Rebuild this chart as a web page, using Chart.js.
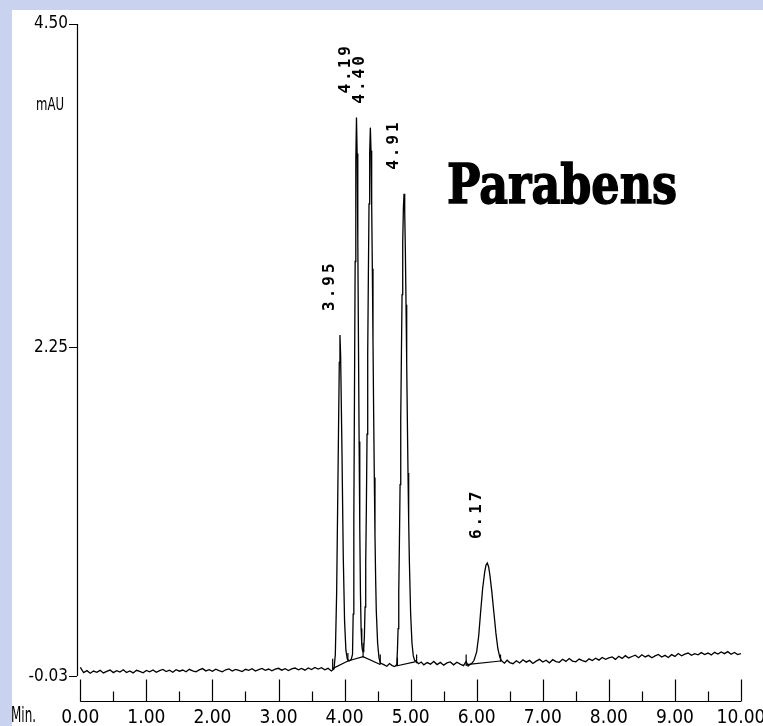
<!DOCTYPE html>
<html>
<head>
<meta charset="utf-8">
<script src="https://cdn.jsdelivr.net/npm/chart.js@4.4.1/dist/chart.umd.min.js"></script>
<style>
  html, body { margin: 0; padding: 0; }
  body { width: 763px; height: 726px; position: relative; overflow: hidden; background: #c9d3ef; }
  #panel { position: absolute; left: 12px; top: 10px; right: 0; bottom: 0; background: #fff; }
  #wrap { position: absolute; left: 0; top: 0; width: 763px; height: 726px; }
</style>
</head>
<body>
<div id="panel"></div>
<div id="wrap"><canvas id="chromatogram" width="763" height="726"></canvas></div>
<script>
// Detector trace: retention time (min) and absorbance (mAU)
const traceTimes = [
  0, 0.05, 0.1, 0.15, 0.2, 0.25, 0.3, 0.35, 0.4, 0.45, 0.5, 0.55, 0.6, 0.65, 0.7, 0.75, 0.8, 0.85, 0.9, 0.95,
  1, 1.05, 1.1, 1.15, 1.2, 1.25, 1.3, 1.35, 1.4, 1.45, 1.5, 1.55, 1.6, 1.65, 1.7, 1.75, 1.8, 1.85, 1.9, 1.95,
  2, 2.05, 2.1, 2.15, 2.2, 2.25, 2.3, 2.35, 2.4, 2.45, 2.5, 2.55, 2.6, 2.65, 2.7, 2.75, 2.8, 2.85, 2.9, 2.95,
  3, 3.05, 3.1, 3.15, 3.2, 3.25, 3.3, 3.35, 3.4, 3.45, 3.5, 3.55, 3.6, 3.65, 3.7, 3.75, 3.8,
  3.84, 3.86, 3.88, 3.9, 3.92, 3.93, 3.94, 3.96, 3.98, 4, 4.02, 4.04, 4.07, 4.1,
  4.12, 4.13, 4.14, 4.15, 4.16, 4.17, 4.18, 4.19, 4.2, 4.21, 4.22, 4.23, 4.24, 4.25, 4.26, 4.27, 4.28,
  4.29, 4.3, 4.31, 4.32, 4.33, 4.34, 4.35, 4.36, 4.37, 4.38, 4.39, 4.4, 4.41, 4.42, 4.43, 4.44, 4.45,
  4.46, 4.47, 4.48, 4.5, 4.52, 4.54, 4.57, 4.6, 4.64, 4.68, 4.72, 4.76, 4.79,
  4.8, 4.81, 4.82, 4.83, 4.84, 4.85, 4.86, 4.87, 4.88, 4.89, 4.9, 4.91, 4.92, 4.93, 4.94, 4.95, 4.96,
  4.97, 4.98, 5, 5.02, 5.04, 5.06, 5.08,
  5.12, 5.16, 5.2, 5.25, 5.3, 5.35, 5.4, 5.45, 5.5, 5.55, 5.6, 5.65, 5.7, 5.75, 5.8, 5.84, 5.87, 5.9,
  5.93, 5.96, 6, 6.03, 6.06, 6.09, 6.12, 6.14, 6.16, 6.18, 6.2, 6.23, 6.26, 6.29, 6.32, 6.35, 6.38,
  6.42, 6.46, 6.5, 6.55, 6.6, 6.65, 6.7, 6.75, 6.8, 6.85, 6.9, 6.95,
  7, 7.05, 7.1, 7.15, 7.2, 7.25, 7.3, 7.35, 7.4, 7.45, 7.5, 7.55, 7.6, 7.65, 7.7, 7.75, 7.8, 7.85, 7.9, 7.95,
  8, 8.05, 8.1, 8.15, 8.2, 8.25, 8.3, 8.35, 8.4, 8.45, 8.5, 8.55, 8.6, 8.65, 8.7, 8.75, 8.8, 8.85, 8.9, 8.95,
  9, 9.05, 9.1, 9.15, 9.2, 9.25, 9.3, 9.35, 9.4, 9.45, 9.5, 9.55, 9.6, 9.65, 9.7, 9.75, 9.8, 9.85, 9.9, 9.95, 10
];
const traceAbs = [
  0.030, -0.006, 0.008, -0.010, 0.005, -0.004, 0.010, -0.008, 0.003, 0.012, -0.006, 0.008, -0.002, 0.014, -0.005, 0.006, -0.008, 0.010, 0.002, -0.007,
  0.009, 0.000, 0.013, -0.004, 0.008, 0.016, 0.002, 0.011, -0.003, 0.014, 0.004, 0.012, 0.000, 0.017, 0.006, -0.001, 0.013, 0.022, 0.006, 0.015,
  0.003, 0.018, 0.008, 0.000, 0.014, 0.020, 0.005, 0.016, 0.009, 0.001, 0.017, 0.010, 0.021, 0.005, 0.015, 0.023, 0.010, 0.019, 0.007, 0.018,
  0.024, 0.011, 0.021, 0.008, 0.020, 0.026, 0.013, 0.023, 0.011, 0.027, 0.016, 0.030, 0.019, 0.028, 0.014, 0.024, 0.006,
  0.02, 0.12, 0.55, 1.35, 2.15, 2.34, 2.2, 1.55, 0.8, 0.35, 0.15, 0.09, 0.075, 0.085,
  0.12, 0.4, 1.05, 1.95, 2.85, 3.55, 3.85, 3.6, 3.0, 2.3, 1.6, 1.0, 0.55, 0.3, 0.19, 0.15, 0.14,
  0.16, 0.25, 0.45, 0.75, 1.15, 1.65, 2.2, 2.75, 3.25, 3.6, 3.78, 3.62, 3.25, 2.8, 2.3, 1.8, 1.35,
  0.95, 0.65, 0.42, 0.2, 0.1, 0.06, 0.055, 0.048, 0.038, 0.057, 0.043, 0.036, 0.05,
  0.15, 0.3, 0.55, 0.9, 1.3, 1.75, 2.2, 2.62, 2.98, 3.22, 3.32, 3.2, 2.92, 2.55, 2.15, 1.75, 1.38,
  1.05, 0.78, 0.4, 0.2, 0.11, 0.08, 0.075,
  0.056, 0.068, 0.048, 0.064, 0.053, 0.072, 0.05, 0.065, 0.046, 0.062, 0.068, 0.048, 0.066, 0.053, 0.043, 0.072, 0.04, 0.05,
  0.06, 0.08, 0.14, 0.25, 0.42, 0.58, 0.69, 0.74, 0.755, 0.73, 0.67, 0.55, 0.41, 0.27, 0.16, 0.1, 0.075,
  0.06, 0.08, 0.064, 0.056, 0.076, 0.061, 0.083, 0.067, 0.079, 0.058, 0.074, 0.086,
  0.068, 0.08, 0.062, 0.084, 0.071, 0.066, 0.087, 0.072, 0.092, 0.074, 0.069, 0.088, 0.077, 0.07, 0.09, 0.078, 0.094, 0.081, 0.099, 0.087,
  0.096, 0.103, 0.086, 0.108, 0.093, 0.112, 0.096, 0.106, 0.115, 0.098, 0.118, 0.103, 0.114, 0.097, 0.11, 0.12, 0.102, 0.114, 0.099, 0.119,
  0.107, 0.127, 0.111, 0.123, 0.13, 0.114, 0.126, 0.118, 0.133, 0.12, 0.13, 0.117, 0.135, 0.123, 0.138, 0.126, 0.14, 0.122, 0.134, 0.119, 0.126
];

// Integration baselines drawn under the peaks (null breaks the line)
const baseTimes = [3.81, 4.05, 4.28, 4.54, 4.66, 4.78, 5.08, 5.5, 5.84, 6.36];
const baseAbs = [0.02, 0.075, 0.105, 0.05, null, 0.04, 0.07, null, 0.05, 0.075];

// Small peak start/end markers
const markTimes = [3.82, 4.05, 4.28, 4.54, 4.8, 5.09, 5.84, 6.36];
const markLow = [0.02, 0.07, 0.1, 0.05, 0.04, 0.06, 0.04, 0.07];
const markHigh = [0.09, 0.13, 0.2, 0.12, 0.1, 0.12, 0.12, 0.12];

// Peak labels (retention times) and the apex they sit above
const peakLabels = ['3.95', '4.19', '4.40', '4.91', '6.17'];
const peakApexTimes = [3.93, 4.18, 4.39, 4.9, 6.16];

// Axis ticks
const xTicks = [0, 1, 2, 3, 4, 5, 6, 7, 8, 9, 10];
const xMinorTicks = [0.5, 1.5, 2.5, 3.5, 4.5, 5.5, 6.5, 7.5, 8.5, 9.5];
const yTicks = [-0.03, 2.25, 4.5];

const tracePoints = traceTimes.map((t, i) => ({ x: t, y: traceAbs[i] }));
const basePoints = baseTimes.map((t, i) => ({ x: t, y: baseAbs[i] }));
const markPoints = [];
markTimes.forEach((t, i) => {
  markPoints.push({ x: t, y: markLow[i] }, { x: t, y: markHigh[i] }, { x: t, y: null });
});

const narrowFont = '"Liberation Sans Narrow", "Arial Narrow", "DejaVu Sans Condensed", sans-serif';

// draw text squeezed to a given width
function squeezeText(ctx, txt, x, y, width) {
  const w = ctx.measureText(txt).width;
  ctx.save();
  ctx.translate(x, y);
  ctx.scale(width / w, 1);
  ctx.fillText(txt, 0, 0);
  ctx.restore();
}

// Draws the instrument-style axes, peak labels and the title text
const hplcDecor = {
  id: 'hplcDecor',
  afterDraw(chart) {
    const { ctx, chartArea, scales: { x, y } } = chart;
    ctx.save();
    ctx.strokeStyle = '#000';
    ctx.lineWidth = 1.2;
    ctx.beginPath();
    // y axis line stops at the lowest tick
    const ax = Math.round(chartArea.left) + 0.5;
    ctx.moveTo(ax, y.getPixelForValue(4.5));
    ctx.lineTo(ax, y.getPixelForValue(-0.03));
    // x axis with ticks pointing up
    const yb = Math.round(chartArea.bottom) - 0.5;
    ctx.moveTo(x.getPixelForValue(0), yb);
    ctx.lineTo(x.getPixelForValue(10), yb);
    xTicks.forEach(v => {
      const px = Math.round(x.getPixelForValue(v)) + 0.5;
      ctx.moveTo(px, yb);
      ctx.lineTo(px, yb - 22);
    });
    xMinorTicks.forEach(v => {
      const px = Math.round(x.getPixelForValue(v)) + 0.5;
      ctx.moveTo(px, yb);
      ctx.lineTo(px, yb - 10);
    });
    ctx.stroke();

    ctx.fillStyle = '#000';
    // axis captions
    ctx.textAlign = 'left';
    ctx.textBaseline = 'middle';
    ctx.font = '17px ' + narrowFont;
    squeezeText(ctx, 'mAU', 36, 106, 28);
    ctx.font = '22px ' + narrowFont;
    squeezeText(ctx, 'Min.', 11, 716, 25);

    // rotated peak labels
    ctx.font = 'bold 16px "DejaVu Sans Mono", monospace';
    ctx.letterSpacing = '3px';
    peakLabels.forEach((lab, i) => {
      const t = peakApexTimes[i];
      const h = traceAbs[traceTimes.indexOf(t)];
      ctx.save();
      ctx.translate(x.getPixelForValue(t) - 10.5, y.getPixelForValue(h) - 24);
      ctx.rotate(-Math.PI / 2);
      ctx.textAlign = 'left';
      ctx.textBaseline = 'middle';
      ctx.fillText(lab, 0, 0);
      ctx.restore();
    });
    ctx.letterSpacing = '0px';

    // big title
    ctx.font = 'bold 55px "DejaVu Serif", serif';
    ctx.textAlign = 'left';
    ctx.textBaseline = 'alphabetic';
    const w = ctx.measureText('Parabens').width;
    ctx.save();
    ctx.translate(447, 203);
    ctx.scale(230 / w, 1);
    ctx.lineWidth = 1.5;
    ctx.strokeStyle = '#000';
    ctx.fillText('Parabens', 0, 0);
    ctx.strokeText('Parabens', 0, 0);
    ctx.restore();
    ctx.restore();
  }
};

new Chart(document.getElementById('chromatogram'), {
  type: 'line',
  data: {
    datasets: [{
      label: 'Signal',
      data: tracePoints,
      borderColor: '#000',
      borderWidth: 1.3,
      pointRadius: 0,
      tension: 0
    }, {
      label: 'Integration baseline',
      data: basePoints,
      borderColor: '#000',
      borderWidth: 1.2,
      pointRadius: 0,
      spanGaps: false
    }, {
      label: 'Markers',
      data: markPoints,
      borderColor: '#000',
      borderWidth: 1.2,
      pointRadius: 0,
      spanGaps: false
    }]
  },
  options: {
    responsive: false,
    animation: false,
    layout: { padding: { left: 0, right: 22, top: 24, bottom: 0 } },
    plugins: {
      legend: { display: false },
      tooltip: { enabled: false }
    },
    scales: {
      x: {
        type: 'linear',
        min: -0.05,
        max: 10,
        afterBuildTicks: s => { s.ticks = xTicks.map(v => ({ value: v })); },
        afterFit: s => { s.height = 24; },
        grid: { display: false },
        border: { display: false },
        ticks: {
          color: '#000',
          font: { family: narrowFont, size: 19 },
          maxRotation: 0,
          autoSkip: false,
          padding: -3,
          callback: v => Number(v).toFixed(2)
        }
      },
      y: {
        min: -0.21,
        max: 4.5,
        afterBuildTicks: s => { s.ticks = yTicks.map(v => ({ value: v })); },
        afterFit: s => { s.width = 77; },
        grid: {
          display: true,
          drawOnChartArea: false,
          drawTicks: true,
          tickLength: 8,
          color: '#000',
          lineWidth: 1
        },
        border: { display: false },
        ticks: {
          color: '#000',
          font: { family: narrowFont, size: 17 },
          padding: 1,
          callback: v => Number(v).toFixed(2)
        }
      }
    }
  },
  plugins: [hplcDecor]
});
</script>
</body>
</html>
